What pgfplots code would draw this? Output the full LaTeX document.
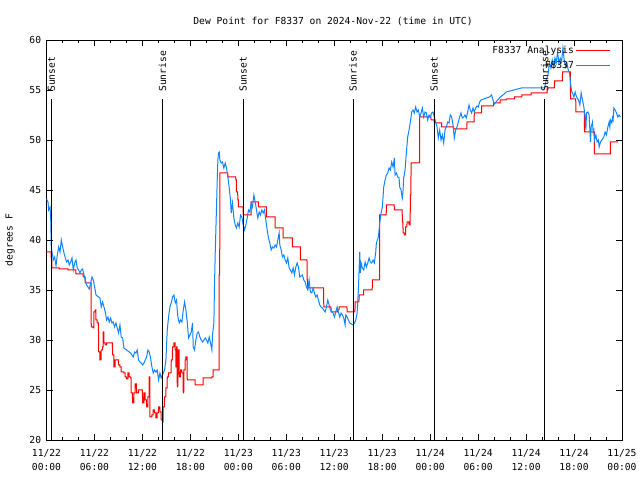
\documentclass[border=0pt]{standalone}
\usepackage{fontspec}
\setmainfont{DejaVu Sans Mono}
\usepackage{pgfplots}
\pgfplotsset{compat=1.18}
\definecolor{obsblue}{RGB}{16,132,255}
\pgfplotstableread{
h v
0 38.8
0.58 38.8
0.6 38.0
0.67 38.0
0.69 37.2
1.58 37.2
1.6 37.1
2.67 37.1
2.69 37.0
3.67 37.0
3.69 36.6
4.58 36.6
4.6 36.3
4.83 36.3
4.85 35.7
5.58 35.7
5.6 31.3
5.83 31.3
5.85 31.2
5.92 31.2
5.94 32.8
6.08 32.8
6.1 33.0
6.17 33.0
6.19 32.0
6.33 32.0
6.35 31.7
6.5 31.7
6.52 28.8
6.67 28.8
6.69 28.0
6.83 28.0
6.85 29.0
7.0 29.0
7.02 29.3
7.08 29.3
7.1 30.8
7.17 30.8
7.19 29.7
7.33 29.7
7.35 29.5
7.5 29.5
7.52 29.7
8.25 29.7
8.27 28.5
8.42 28.5
8.44 27.3
8.58 27.3
8.6 28.0
9.0 28.0
9.02 27.5
9.17 27.5
9.19 27.3
9.33 27.3
9.35 26.8
9.67 26.8
9.69 26.7
9.83 26.7
9.85 26.3
10.0 26.3
10.02 26.1
10.17 26.1
10.19 26.7
10.33 26.7
10.35 26.3
10.5 26.3
10.52 26.2
10.58 26.2
10.6 24.7
10.75 24.7
10.77 23.7
10.92 23.7
10.94 24.7
11.08 24.7
11.1 25.6
11.25 25.6
11.27 24.7
11.5 24.7
11.52 25.0
12.0 25.0
12.02 23.7
12.17 23.7
12.19 24.7
12.33 24.7
12.35 24.0
12.5 24.0
12.52 23.3
12.67 23.3
12.69 24.3
12.83 24.3
12.85 26.3
12.92 26.3
12.94 22.3
13.17 22.3
13.19 22.5
13.33 22.5
13.35 23.0
13.5 23.0
13.52 22.7
13.67 22.7
13.69 22.2
13.83 22.2
13.85 22.7
14.0 22.7
14.02 23.3
14.17 23.3
14.19 22.8
14.33 22.8
14.35 22.0
14.5 22.0
14.52 21.8
14.58 21.8
14.6 23.3
14.75 23.3
14.77 24.3
14.92 24.3
14.94 25.2
15.09 25.2
15.11 26.3
15.25 26.3
15.27 26.7
15.59 26.7
15.61 28.0
15.75 28.0
15.77 29.3
15.92 29.3
15.94 29.7
16.09 29.7
16.11 29.0
16.17 29.0
16.19 27.3
16.25 27.3
16.27 29.3
16.34 29.3
16.36 25.3
16.42 25.3
16.44 29.0
16.59 29.0
16.61 26.3
16.75 26.3
16.77 27.0
16.92 27.0
16.94 26.7
17.09 26.7
17.11 24.7
17.17 24.7
17.19 27.0
17.34 27.0
17.36 28.0
17.42 28.0
17.44 28.3
17.59 28.3
17.61 26.0
18.59 26.0
18.61 25.5
19.59 25.5
19.61 26.2
20.67 26.2
20.69 26.3
20.84 26.3
20.86 27.0
21.59 27.0
21.61 36.5
21.67 36.5
21.69 46.7
22.67 46.7
22.69 46.3
23.67 46.3
23.69 46.0
23.75 46.0
23.77 44.8
23.92 44.8
23.94 44.0
24.0 44.0
24.02 43.3
24.59 43.3
24.61 42.5
25.59 42.5
25.61 43.8
26.5 43.8
26.52 43.3
27.5 43.3
27.52 42.3
28.59 42.3
28.61 41.2
29.59 41.2
29.61 40.2
30.75 40.2
30.77 39.3
31.75 39.3
31.77 38.0
32.59 38.0
32.61 36.0
32.67 36.0
32.69 35.2
34.67 35.2
34.69 33.3
35.59 33.3
35.61 32.8
36.42 32.8
36.44 33.0
36.59 33.0
36.61 33.3
37.59 33.3
37.61 32.8
38.59 32.8
38.61 33.8
39.09 33.8
39.11 34.5
39.67 34.5
39.69 35.0
40.75 35.0
40.77 36.0
41.67 36.0
41.69 42.5
42.5 42.5
42.52 43.5
43.5 43.5
43.52 43.0
44.5 43.0
44.52 41.8
44.59 41.8
44.61 40.7
44.75 40.7
44.77 40.5
44.92 40.5
44.94 41.3
45.09 41.3
45.11 41.8
45.34 41.8
45.36 41.5
45.5 41.5
45.52 44.5
45.59 44.5
45.61 47.7
46.67 47.7
46.69 52.3
48.09 52.3
48.11 52.0
48.5 52.0
48.52 51.7
49.42 51.7
49.44 51.3
50.92 51.3
50.94 51.1
52.59 51.1
52.61 51.8
53.5 51.8
53.52 52.7
54.42 52.7
54.44 53.4
55.92 53.4
55.94 53.7
56.75 53.7
56.77 54.0
57.5 54.0
57.52 54.1
58.54 54.1
58.56 54.3
59.46 54.3
59.48 54.5
60.62 54.5
60.64 54.7
62.62 54.7
62.64 55.2
63.54 55.2
63.56 55.9
64.54 55.9
64.56 56.8
65.54 56.8
65.56 54.1
66.21 54.1
66.23 52.8
67.29 52.8
67.31 50.8
68.54 50.8
68.56 48.6
70.54 48.6
70.56 49.8
71.5 49.8
}\redtab
\pgfplotstableread{
h v
0 44.1
0.19 43.8
0.27 43.0
0.44 43.3
0.52 42.4
0.6 39.2
0.69 38.8
0.85 38.0
1.02 38.3
1.19 37.4
1.35 38.5
1.52 39.3
1.69 38.8
1.85 40.0
2.02 39.3
2.19 38.7
2.35 38.2
2.52 37.8
2.69 38.0
2.85 37.5
3.02 37.8
3.19 38.2
3.35 37.0
3.52 37.7
3.69 38.0
3.85 37.2
4.02 37.0
4.19 36.7
4.35 37.0
4.52 37.1
4.69 36.5
4.85 36.0
5.02 35.5
5.19 35.3
5.35 35.1
5.52 35.7
5.69 36.3
5.85 36.0
6.02 35.3
6.19 34.5
6.69 34.2
6.85 33.3
7.02 33.8
7.19 33.3
7.35 32.8
7.52 32.0
7.69 32.3
7.85 31.8
8.02 32.2
8.19 31.7
8.35 31.8
8.52 31.3
8.69 31.7
8.85 31.2
9.02 30.7
9.19 31.5
9.35 30.3
9.52 30.2
9.69 29.2
10.35 28.8
10.52 28.7
10.85 28.3
11.02 28.8
11.19 28.7
11.35 29.0
11.52 28.0
11.69 27.8
11.85 27.7
12.02 27.5
12.19 27.7
12.52 28.3
12.69 29.0
12.85 28.8
13.02 28.2
13.19 27.3
13.35 26.7
13.52 27.0
13.69 26.8
13.85 27.0
14.02 26.0
14.19 26.7
14.35 26.2
14.77 27.0
14.94 28.0
15.11 31.0
15.27 32.3
15.44 33.3
15.61 33.7
15.77 34.3
15.94 34.5
16.11 33.7
16.27 34.0
16.36 33.0
16.44 32.3
16.61 31.7
16.77 32.0
16.94 31.8
17.11 33.0
17.27 33.8
17.44 33.0
17.61 31.8
17.77 30.2
17.94 30.5
18.11 30.8
18.27 31.7
18.36 29.3
18.52 29.0
18.69 30.0
18.86 30.7
19.02 30.8
19.19 30.3
19.36 30.0
19.52 29.8
19.69 30.0
19.86 30.2
20.02 30.0
20.19 29.7
20.36 30.3
20.52 29.7
20.69 29.0
20.77 30.5
20.94 31.7
21.02 35.5
21.11 38.7
21.19 41.0
21.27 43.3
21.36 46.0
21.44 48.0
21.52 48.7
21.61 48.8
21.69 48.0
21.86 47.7
22.02 47.8
22.19 47.2
22.36 47.7
22.52 47.2
22.69 46.3
22.86 45.2
23.02 44.0
23.11 42.7
23.27 43.7
23.44 42.2
23.61 41.5
23.77 41.2
23.94 41.7
24.11 41.3
24.27 42.5
24.44 42.3
24.61 41.5
24.77 41.0
24.94 41.5
25.11 42.2
25.27 43.0
25.44 42.8
25.61 43.7
25.77 43.3
25.94 44.5
26.11 43.8
26.27 43.0
26.44 42.2
26.61 42.8
26.77 42.5
26.94 43.0
27.11 42.7
27.27 43.0
27.44 42.0
27.61 41.0
27.77 40.2
27.94 39.7
28.11 39.0
28.27 39.3
28.44 39.2
28.61 39.5
28.77 39.3
28.94 40.0
29.11 40.7
29.19 39.5
29.36 39.0
29.52 38.3
29.69 38.5
29.86 38.0
30.02 37.7
30.19 38.2
30.36 37.2
30.52 37.0
30.69 36.7
30.86 37.2
31.02 36.5
31.19 37.3
31.36 37.7
31.52 37.3
31.69 36.3
32.02 36.5
32.19 36.0
32.36 35.8
32.52 35.3
32.69 35.0
32.86 36.0
33.02 34.8
33.19 34.7
33.36 35.2
33.52 34.7
33.69 34.3
33.86 34.5
34.02 34.0
34.19 33.5
34.36 33.3
34.52 33.2
34.69 33.0
34.86 32.8
35.02 33.3
35.19 34.0
35.36 33.5
35.52 33.0
35.69 32.8
35.86 32.7
36.02 32.3
36.19 32.8
36.36 33.3
36.52 32.8
36.69 32.3
36.86 32.7
37.02 32.5
37.19 32.2
37.36 31.5
37.44 32.5
37.61 32.3
37.77 32.0
37.94 31.7
38.36 31.5
38.52 31.7
38.69 32.0
38.86 32.7
39.02 35.0
39.19 38.8
39.27 36.7
39.36 37.7
39.52 37.2
39.69 37.0
39.86 37.8
40.02 37.3
40.19 37.7
40.36 38.2
40.52 37.8
40.69 37.7
40.86 38.0
41.02 37.7
41.19 38.8
41.27 39.7
41.52 40.3
41.69 41.7
41.86 42.7
42.02 43.3
42.19 45.3
42.36 46.0
42.52 46.5
42.69 46.7
42.86 47.2
43.02 47.0
43.19 47.8
43.36 47.3
43.52 48.2
43.61 46.5
43.77 46.7
43.94 46.3
44.11 46.2
44.19 45.3
44.36 45.0
44.44 44.5
44.52 44.2
44.61 45.0
44.69 46.2
44.86 47.0
45.02 48.7
45.19 50.3
45.36 51.0
45.52 51.8
45.69 52.8
45.86 53.0
46.02 52.7
46.19 53.3
46.36 52.8
46.52 53.0
46.69 52.3
46.86 52.7
47.02 53.2
47.19 52.3
47.36 52.8
47.52 52.7
47.69 52.0
47.86 52.5
48.02 52.3
48.19 52.7
48.36 52.8
48.52 52.3
48.69 51.8
48.86 51.3
49.02 50.2
49.19 51.0
49.36 50.0
49.52 50.5
49.69 49.7
49.86 51.0
50.02 51.3
50.19 51.8
50.36 51.7
50.52 52.5
50.69 52.3
50.86 51.5
51.02 50.2
51.19 51.0
51.36 51.3
51.52 51.8
51.69 52.3
51.86 52.7
52.02 52.2
52.19 52.3
52.36 52.5
52.52 52.2
52.69 52.8
52.86 53.5
53.02 53.0
53.19 52.7
53.36 53.2
53.52 52.8
53.69 53.2
53.86 53.4
54.02 53.3
54.19 53.8
54.36 54.0
55.02 54.2
55.44 54.3
55.69 54.5
55.86 54.0
56.02 53.6
56.77 54.3
57.11 54.5
57.52 54.8
59.4 55.2
62.3 55.2
62.52 56.0
62.73 56.5
62.94 57.7
63.11 57.2
63.27 58.0
63.44 57.3
63.61 58.2
63.77 57.7
63.94 58.8
64.11 57.7
64.27 58.2
64.44 57.8
64.61 59.2
64.77 58.0
64.94 57.3
65.11 57.7
65.27 57.0
65.44 56.7
65.56 55.7
65.64 55.2
65.73 54.8
65.81 54.7
65.98 54.3
66.14 54.8
66.23 54.5
66.39 54.2
66.56 54.0
66.73 53.5
66.89 54.7
67.06 54.0
67.23 53.3
67.39 52.3
67.48 51.0
67.56 52.7
67.73 52.8
67.89 52.5
67.98 51.0
68.06 49.8
68.14 51.3
68.31 51.8
68.39 50.8
68.48 51.0
68.56 50.0
68.73 50.5
68.89 49.8
69.06 50.0
69.14 49.3
69.31 49.8
69.73 50.3
69.89 50.8
70.06 50.5
70.23 51.3
70.39 51.8
70.48 51.3
70.56 52.0
70.73 51.7
70.81 52.2
70.89 52.0
70.98 53.2
71.14 53.0
71.31 52.7
71.48 52.3
71.64 52.5
71.81 52.3
}\bluetab
\begin{document}
\fontsize{9.7pt}{11pt}\selectfont
\begin{tikzpicture}
\begin{axis}[
  at={(46.5bp,40bp)}, anchor=south west,
  scale only axis, width=575.5bp, height=400bp,
  xmin=0, xmax=72, ymin=20, ymax=60,
  xtick={0,6,...,72},
  minor xtick={2,4,8,10,14,16,20,22,26,28,32,34,38,40,44,46,50,52,56,58,62,64,68,70},
  xticklabels={{11/22\\00:00},{11/22\\06:00},{11/22\\12:00},{11/22\\18:00},{11/23\\00:00},{11/23\\06:00},{11/23\\12:00},{11/23\\18:00},{11/24\\00:00},{11/24\\06:00},{11/24\\12:00},{11/24\\18:00},{11/25\\00:00}},
  xticklabel style={align=center, font=\fontsize{9.7pt}{14bp}\selectfont, yshift=-6bp},
  ytick={20,25,...,60},
  yticklabel style={font=\fontsize{9.7pt}{11pt}\selectfont, xshift=-2bp},
  tick align=inside, major tick length=6bp, minor tick length=3bp,
  tick style={black, line width=0.8bp},
  axis line style={line width=0.9bp},
  /pgf/number format/assume math mode=true,
  legend style={draw=none, fill=none, at={(axis description cs:0.981,0.99)}, anchor=north east, font=\fontsize{9.7pt}{11pt}\selectfont, row sep=2bp, inner sep=0pt},
  legend cell align=right,
  legend plot pos=right,
  legend image code/.code={\path (0bp,0bp) -- (34bp,0bp); \draw[#1, line width=1bp] (6bp,0bp) -- (34bp,0bp);},
]
\addplot[draw=red, color=red, line width=1bp, sharp plot] table[x=h, y=v] {\redtab};
\addlegendentry{F8337 Analysis}
\addplot[draw=obsblue, color=obsblue, line width=1bp, sharp plot] table[x=h, y=v] {\bluetab};
\addlegendentry{F8337}
\addplot[black, line width=1bp, forget plot] coordinates {(0.6,20) (0.6,54.1)};
\addplot[black, line width=1bp, forget plot] coordinates {(14.5,20) (14.5,54.1)};
\addplot[black, line width=1bp, forget plot] coordinates {(24.6,20) (24.6,54.1)};
\addplot[black, line width=1bp, forget plot] coordinates {(38.35,20) (38.35,54.1)};
\addplot[black, line width=1bp, forget plot] coordinates {(48.5,20) (48.5,54.1)};
\addplot[black, line width=1bp, forget plot] coordinates {(62.35,20) (62.35,54.1)};
\node[rotate=90, anchor=west, inner sep=0pt] at (axis cs:0.6,54.8) {Sunset};
\node[rotate=90, anchor=west, inner sep=0pt] at (axis cs:14.5,54.8) {Sunrise};
\node[rotate=90, anchor=west, inner sep=0pt] at (axis cs:24.6,54.8) {Sunset};
\node[rotate=90, anchor=west, inner sep=0pt] at (axis cs:38.35,54.8) {Sunrise};
\node[rotate=90, anchor=west, inner sep=0pt] at (axis cs:48.5,54.8) {Sunset};
\node[rotate=90, anchor=west, inner sep=0pt] at (axis cs:62.35,54.8) {Sunrise};
\end{axis}
\node at (333bp,459bp) {Dew Point for F8337 on 2024-Nov-22 (time in UTC)};
\node[rotate=90] at (10bp,240bp) {degrees F};
\pgfresetboundingbox
\path[use as bounding box] (0bp,0bp) rectangle (640bp,480bp);
\end{tikzpicture}
\end{document}
